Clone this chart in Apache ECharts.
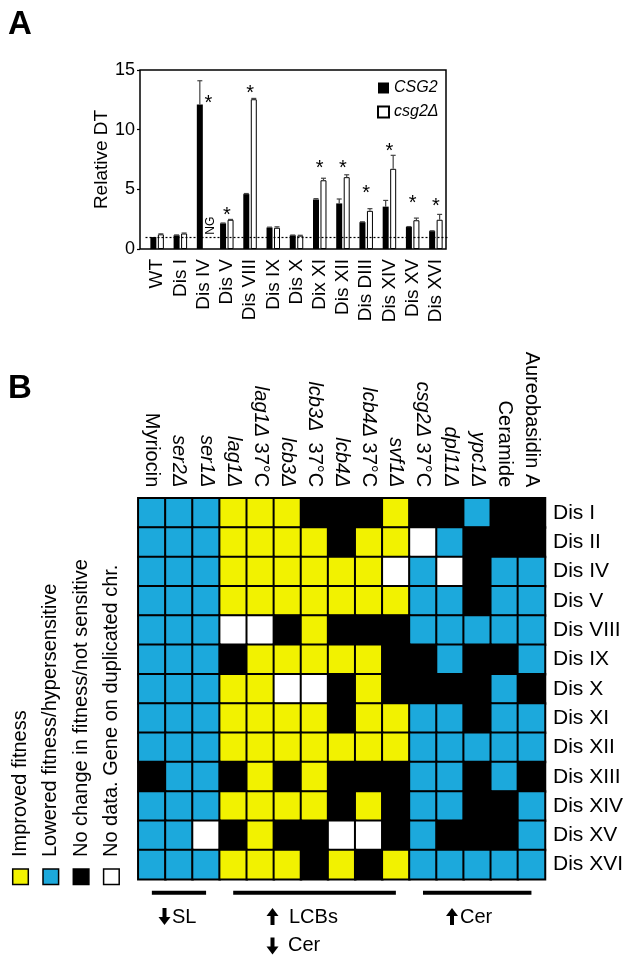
<!DOCTYPE html>
<html>
<head>
<meta charset="utf-8">
<script src="https://cdn.jsdelivr.net/npm/echarts@6/dist/echarts.min.js"></script>
<style>
  html, body { margin: 0; padding: 0; background: #fff; }
  #chart { width: 644px; height: 965px; }
</style>
</head>
<body>
<div id="chart"></div>
<script>
// panel A: relative doubling time
var strains = ['WT', 'Dis I', 'Dis IV', 'Dis V', 'Dis VIII', 'Dis IX', 'Dis X', 'Dix XI',
               'Dis XII', 'Dis DIII', 'Dis XIV', 'Dis XV', 'Dis XVI'];
var csg2 = [1.0, 1.15, 12.1, 2.15, 4.6, 1.8, 1.15, 4.15, 3.82, 2.25, 3.55, 1.85, 1.5];
var csg2Err = [0, 0.03, 2.0, 0.03, 0.05, 0.03, 0.02, 0.07, 0.37, 0.03, 0.52, 0.03, 0.03];
var csg2d = [1.23, 1.3, null, 2.45, 12.55, 1.78, 1.12, 5.76, 6.02, 3.2, 6.72, 2.41, 2.45];
var csg2dErr = [0.04, 0.04, null, 0.03, 0.07, 0.08, 0.03, 0.17, 0.2, 0.18, 1.13, 0.18, 0.45];
var starAt = [null, null, 12.55, 3.13, 13.33, null, null, 7.1, 7.1, 4.95, 8.52, 4.17, 3.88];
var yMin = 0, yMax = 15, yStep = 5;

// panel B: Y improved, B lowered, K no change, W no data
var drugs = ['Myriocin', 'ser2Δ', 'ser1Δ', 'lag1Δ', 'lag1Δ 37°C', 'lcb3Δ', 'lcb3Δ  37°C', 'lcb4Δ',
             'lcb4Δ 37°C', 'svf1Δ', 'csg2Δ 37°C', 'dpl11Δ', 'ypc1Δ', 'Ceramide', 'Aureobasidin A'];
var disRows = ['Dis I', 'Dis II', 'Dis IV', 'Dis V', 'Dis VIII', 'Dis IX', 'Dis X', 'Dis XI',
               'Dis XII', 'Dis XIII', 'Dis XIV', 'Dis XV', 'Dis XVI'];
var fitness = [
  'BBBYYYKKKYKKBKK',
  'BBBYYYYKYYWBKKK',
  'BBBYYYYYYWBWKBB',
  'BBBYYYYYYYBBKBB',
  'BBBWWKYKKKBBBBB',
  'BBBKYYYYYKKBKKB',
  'BBBYYWWKYKKKKBK',
  'BBBYYYYKYYBBKBB',
  'BBBYYYYYYYBBBBB',
  'KBBKYKYKKKBBKBK',
  'BBBYYYYKYKBBKKB',
  'BBWKYKKWWKBKKKB',
  'BBBYYYKYKYBBBBB'
];
var codes = ['Y', 'B', 'K', 'W'];
var codeColors = ['#f2f200', '#1ca9dc', '#000000', '#ffffff'];
var codeNames = ['Improved fitness', 'Lowered fitness/hypersensitive',
                 'No change in fitness/not sensitive', 'No data. Gene on duplicated chr.'];
var groups = [[0, 2], [3, 9], [10, 14]];

var FONT = '"Liberation Sans", Arial, sans-serif';
var barW = 6, slot = 3.75;

var heatData = [];
fitness.forEach(function (row, r) {
  row.split('').forEach(function (ch, c) {
    heatData.push([c, r, codes.indexOf(ch)]);
  });
});

// heatmap grid
var hmLeft = 138.3, hmTop = 498.3, hmW = 406.7, hmH = 381;
var cellW = hmW / drugs.length;

function errSeries(vals, errs, shift) {
  var d = [];
  vals.forEach(function (v, i) { if (v != null && errs[i]) d.push([i, v, errs[i]]); });
  return {
    type: 'custom', xAxisIndex: 0, yAxisIndex: 0, z: 4, silent: true,
    encode: { x: 0, y: 1 },
    data: d,
    renderItem: function (params, api) {
      var p0 = api.coord([api.value(0), api.value(1)]);
      var p1 = api.coord([api.value(0), api.value(1) + api.value(2)]);
      var x = p0[0] + shift;
      var st = { stroke: '#444', lineWidth: 1.2 };
      return { type: 'group', children: [
        { type: 'line', shape: { x1: x, y1: p0[1], x2: x, y2: p1[1] }, style: st },
        { type: 'line', shape: { x1: x - 2.5, y1: p1[1], x2: x + 2.5, y2: p1[1] }, style: st }
      ]};
    }
  };
}

var starData = [];
starAt.forEach(function (v, i) { if (v != null) starData.push([i, v]); });
var ngData = [];
csg2d.forEach(function (v, i) { if (v == null) ngData.push([i, 1.95]); });

function arrow(cx, cy, up) {
  var h = 8.5, t = up ? -1 : 1;
  var tip = cy + t * h, base = cy + t * (h - 8), end = cy - t * h;
  return {
    type: 'polygon',
    shape: { points: [[cx, tip], [cx + 6, base], [cx + 2, base], [cx + 2, end],
                      [cx - 2, end], [cx - 2, base], [cx - 6, base]] },
    style: { fill: '#000' }
  };
}
function label(x, y, s, size, bold) {
  return { type: 'text', x: x, y: y,
    style: { text: s, fontSize: size, fontWeight: bold ? 'bold' : 'normal', fontFamily: FONT,
             fill: '#000', align: 'left', verticalAlign: 'middle' } };
}

var graphics = [
  label(8, 25, 'A', 33, true),
  label(8, 389, 'B', 33, true),
  { type: 'rect', shape: { x: 140, y: 70, width: 306, height: 179 },
    style: { fill: 'none', stroke: '#000', lineWidth: 1.5 }, z: 10 }
];
// panel B legend (rotated)
codeNames.forEach(function (name, k) {
  var cx = 20.5 + k * 30.3;
  graphics.push({ type: 'rect', shape: { x: cx - 7.8, y: 869, width: 15.6, height: 15.6 },
    style: { fill: codeColors[k], stroke: '#000', lineWidth: 1.5 } });
  graphics.push({ type: 'text', x: cx, y: 857, rotation: Math.PI / 2,
    style: { text: name, fontSize: 20, fontFamily: FONT, fill: '#000', align: 'left', verticalAlign: 'middle' } });
});
// group bars under heatmap
groups.forEach(function (g) {
  graphics.push({ type: 'line',
    shape: { x1: hmLeft + (g[0] + 0.5) * cellW, y1: 892.7, x2: hmLeft + (g[1] + 0.5) * cellW, y2: 892.7 },
    style: { stroke: '#000', lineWidth: 4 } });
});
graphics.push(arrow(164.5, 916.5, false), label(172, 917.5, 'SL', 20));
graphics.push(arrow(272.5, 916.5, true), label(289, 917.5, 'LCBs', 20));
graphics.push(arrow(272.5, 946, false), label(288, 945.5, 'Cer', 20));
graphics.push(arrow(452, 916.5, true), label(460, 917.5, 'Cer', 20));

var myChart = echarts.init(document.getElementById('chart'), null, { renderer: 'canvas' });

var option = {
  backgroundColor: '#fff',
  animation: false,
  textStyle: { fontFamily: FONT, color: '#000' },
  legend: {
    data: ['CSG2', 'csg2Δ'],
    orient: 'vertical', left: 372, top: 75,
    icon: 'rect', itemWidth: 11, itemHeight: 11, itemGap: 8,
    textStyle: { fontSize: 16, fontStyle: 'italic', color: '#000', fontFamily: FONT },
    selectedMode: false
  },
  grid: [
    { left: 145.5, top: 70, width: 302, height: 179 },
    { left: hmLeft, top: hmTop, width: hmW, height: hmH }
  ],
  xAxis: [
    { type: 'category', gridIndex: 0, data: strains,
      axisLine: { show: false }, axisTick: { show: false }, splitLine: { show: false },
      axisLabel: { rotate: 90, interval: 0, margin: 10, fontSize: 19, color: '#000', fontFamily: FONT } },
    { type: 'category', gridIndex: 1, data: drugs, position: 'top',
      axisLine: { show: false }, axisTick: { show: false }, splitLine: { show: false },
      axisLabel: {
        rotate: 90, interval: 0, margin: 11, color: '#000',
        formatter: function (v) {
          var m = v.match(/^(\S+Δ)(.*)$/);
          return m ? '{i|' + m[1] + '}{n|' + m[2] + '}' : '{n|' + v + '}';
        },
        rich: {
          i: { fontSize: 20, fontStyle: 'italic', fontFamily: FONT, color: '#000' },
          n: { fontSize: 20, fontFamily: FONT, color: '#000' }
        }
      } }
  ],
  yAxis: [
    { type: 'value', gridIndex: 0, min: yMin, max: yMax, interval: yStep, offset: 5.5,
      name: 'Relative DT', nameLocation: 'middle', nameGap: 26, nameRotate: 90,
      nameTextStyle: { fontSize: 19, color: '#000', fontFamily: FONT },
      axisLine: { show: false }, splitLine: { show: false },
      axisTick: { show: true, length: 3, lineStyle: { color: '#000', width: 1.2 } },
      axisLabel: { fontSize: 18, margin: 5, color: '#000', fontFamily: FONT } },
    { type: 'category', gridIndex: 1, data: disRows, position: 'right', inverse: true,
      axisLine: { show: false }, axisTick: { show: false }, splitLine: { show: false },
      axisLabel: { fontSize: 21, margin: 8, color: '#000', fontFamily: FONT } }
  ],
  visualMap: {
    type: 'piecewise', show: false, seriesIndex: 6, dimension: 2,
    pieces: codeColors.map(function (c, k) { return { value: k, color: c }; })
  },
  series: [
    { name: 'CSG2', type: 'bar', xAxisIndex: 0, yAxisIndex: 0, data: csg2,
      barWidth: barW, barGap: '25%', itemStyle: { color: '#000' },
      markLine: { silent: true, symbol: 'none', label: { show: false },
        lineStyle: { type: [2, 2], color: '#000', width: 1.2 }, data: [{ yAxis: 1 }] } },
    { name: 'csg2Δ', type: 'bar', xAxisIndex: 0, yAxisIndex: 0, data: csg2d,
      barWidth: barW, itemStyle: { color: '#fff', borderColor: '#000', borderWidth: 1 } },
    errSeries(csg2, csg2Err, -slot),
    errSeries(csg2d, csg2dErr, slot),
    { type: 'custom', xAxisIndex: 0, yAxisIndex: 0, z: 5, silent: true,
      encode: { x: 0, y: 1 }, data: starData,
      renderItem: function (params, api) {
        var i = api.value(0);
        var p = api.coord([i, api.value(1)]);
        var x = p[0] + (csg2d[i] == null ? slot + 1 : 0);
        return { type: 'text', x: x, y: p[1] + 4,
          style: { text: '*', fontSize: 20, fontFamily: FONT, fill: '#000', align: 'center', verticalAlign: 'middle' } };
      } },
    { type: 'custom', xAxisIndex: 0, yAxisIndex: 0, z: 5, silent: true,
      encode: { x: 0, y: 1 }, data: ngData,
      renderItem: function (params, api) {
        var p = api.coord([api.value(0), api.value(1)]);
        return { type: 'text', x: p[0] + slot + 3, y: p[1], rotation: Math.PI / 2,
          style: { text: 'NG', fontSize: 12, fontFamily: FONT, fill: '#000', align: 'center', verticalAlign: 'middle' } };
      } },
    { type: 'heatmap', xAxisIndex: 1, yAxisIndex: 1, data: heatData,
      itemStyle: { borderColor: '#000', borderWidth: 2 },
      emphasis: { disabled: true } }
  ],
  graphic: graphics
};
myChart.setOption(option);
</script>
</body>
</html>
